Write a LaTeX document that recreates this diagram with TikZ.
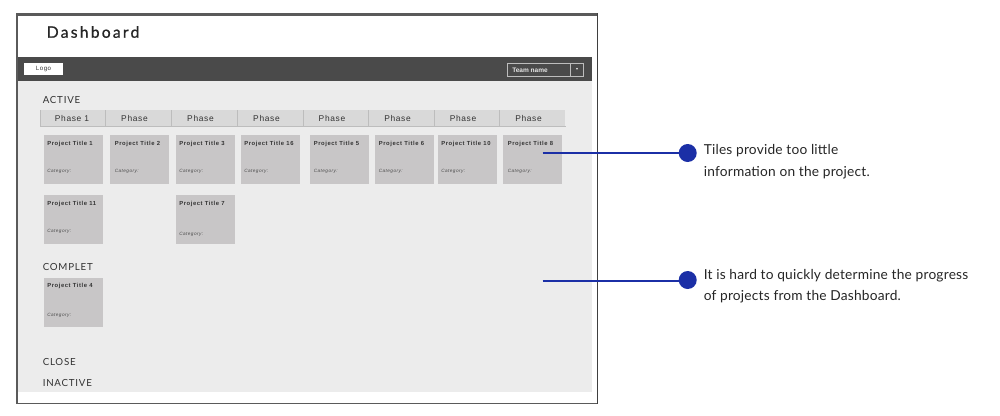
\documentclass[tikz,border=0pt]{standalone}
\usepackage{fontspec}
\setmainfont{Lato}
\newfontfamily\headf[LetterSpace=14,FakeBold=0.8]{Lato}
\newfontfamily\secf[LetterSpace=8]{Lato}
\newfontfamily\phasef[LetterSpace=8]{Liberation Sans}
\newfontfamily\tilef[LetterSpace=10]{Liberation Sans}
\newfontfamily\noteh[LetterSpace=1.5]{Lato}
\definecolor{framec}{HTML}{5A5A5A}
\definecolor{panelc}{HTML}{ECECEC}
\definecolor{darkc}{HTML}{4A4A4A}
\definecolor{tilec}{HTML}{C8C6C7}
\definecolor{phasec}{HTML}{D9D9D9}
\definecolor{phaseline}{HTML}{BDBDBD}
\definecolor{bluec}{HTML}{1B2FA6}
\definecolor{textc}{HTML}{333333}
\tikzset{
  x=0.75pt,y=-0.75pt,
  tilebox/.style={fill=tilec,draw=none,minimum width=44.25pt,minimum height=36.75pt,inner sep=0pt,outer sep=0pt},
  tiletitle/.style={anchor=west,inner sep=0pt,font=\tilef\bfseries\fontsize{4.4}{5}\selectfont,text=black!80},
  tilecat/.style={anchor=west,inner sep=0pt,font=\tilef\itshape\fontsize{3.5}{4}\selectfont,text=black!70},
  phasetext/.style={anchor=center,inner sep=0pt,font=\phasef\fontsize{6.3}{8}\selectfont,text=textc},
  section/.style={anchor=west,inner sep=0pt,font=\secf\fontsize{7.3}{9}\selectfont,text=textc},
  note/.style={anchor=west,inner sep=0pt,font=\noteh\fontsize{10.3}{12}\selectfont,text=black!85},
  dot/.style={circle,fill=bluec,draw=none,minimum size=13.5pt,inner sep=0pt},
  leader/.style={draw=bluec,line width=1.3pt},
}
\begin{document}
\begin{tikzpicture}
\useasboundingbox (0,0) rectangle (1000,415);
\fill[white] (0,0) rectangle (1000,415);
% frame
\node[fill=panelc,draw=none,minimum width=430.5pt,minimum height=233.25pt,inner sep=0pt,anchor=north west] (panel) at (18,81) {};
\node[fill=darkc,draw=none,minimum width=430.5pt,minimum height=18pt,inner sep=0pt,anchor=north west] (bar) at (18,57) {};
\fill[framec] (16,13) rectangle (598,15.5);
\fill[framec] (16,13) rectangle (18,404);
\fill[framec] (16,402.5) rectangle (598,404);
\fill[framec!70!black] (596.6,13) rectangle (598,404);
\node[anchor=west,inner sep=0pt,font=\headf\fontsize{11.8}{14}\selectfont,text=black!85] (title) at (46.5,32) {Dashboard};
% bar
\node[fill=white,minimum width=28.9pt,minimum height=9pt,inner sep=0pt,anchor=north west,font=\phasef\fontsize{4.6}{5}\selectfont,text=textc] (logo) at (24,63) {Logo};
\node[draw=phaseline,line width=.5pt,minimum width=57.6pt,minimum height=9.6pt,inner sep=0pt,anchor=north west] (team) at (506.5,63) {};
\node[anchor=west,inner sep=0pt,font=\fontspec{Liberation Sans}\bfseries\fontsize{4.9}{6}\selectfont,text=white!90!black] (teamtext) at (512,70) {Team name};
\draw[phaseline,line width=.5pt] (570.5,63) -- (570.5,75.5);
\node[inner sep=0pt,font=\fontspec{DejaVu Sans}\fontsize{3}{3}\selectfont,text=white] (arrow) at (577,69.5) {▾};
% sections
\node[section] (s1) at (42.5,100.5) {ACTIVE};
\node[section] (s2) at (42.5,266.7) {COMPLET};
\node[section] (s3) at (42.5,361.7) {CLOSE};
\node[section] (s4) at (42.5,383.2) {INACTIVE};
% phase strip
\node[fill=phasec,draw=none,minimum width=393.4pt,minimum height=11.7pt,inner sep=0pt,anchor=north west] (strip) at (40.5,110) {};
\draw[phaseline,line width=.4pt] (strip.north west) -- (strip.south west) -- (strip.south east);
\foreach \x in {105.5,171.5,237.5,303.5,368.5,434.5,499.5}{\draw[phaseline,line width=.5pt] (\x,110) -- (\x,125.5);}
\node[phasetext] (p1) at (72,118.5) {Phase 1};
\node[phasetext] (p2) at (134.5,118.5) {Phase};
\node[phasetext] (p3) at (200.5,118.5) {Phase};
\node[phasetext] (p4) at (266.5,118.5) {Phase};
\node[phasetext] (p5) at (332,118.5) {Phase};
\node[phasetext] (p6) at (397.5,118.5) {Phase};
\node[phasetext] (p7) at (463,118.5) {Phase};
\node[phasetext] (p8) at (528.5,118.5) {Phase};
% tiles: name, x, y, title, title x, category y
\foreach \n/\x/\y/\t/\tx/\cy in {
 a/44/135/{Project Title 1}/47/171.5,
 b/110/135/{Project Title 2}/114.5/171.5,
 c/176/135/{Project Title 3}/179/171.5,
 d/241/135/{Project Title 16}/244/171.5,
 e/310/135/{Project Title 5}/313.5/171.5,
 f/375/135/{Project Title 6}/378.5/171.5,
 g/437.5/135/{Project Title 10}/441/171.5,
 h/503/135/{Project Title 8}/507.5/171.5,
 i/44/195/{Project Title 11}/47/231,
 j/176/195/{Project Title 7}/179/234,
 k/44/277.5/{Project Title 4}/47/315.5}
{
 \node[tilebox,anchor=north west] (tile\n) at (\x,\y) {};
 \node[tiletitle] (title\n) at (\tx,\y+8.8) {\t};
 \node[tilecat] (cat\n) at (\tx,\cy) {Category:};
}
% callouts
\coordinate (from1) at (542.5,153.3);
\coordinate (from2) at (542.5,280.8);
\node[dot] (dot1) at (687.7,153) {};
\node[dot] (dot2) at (687.7,280) {};
\draw[leader] (from1) -- (dot1.center |- from1);
\draw[leader] (from2) -- (dot2.center |- from2);
\node[note] (n1a) at (703.5,151) {Tiles provide too little};
\node[note] (n1b) at (703.5,172.5) {information on the project.};
\node[note] (n2a) at (703.5,275.5) {It is hard to quickly determine the progress};
\node[note] (n2b) at (703.5,296.5) {of projects from the Dashboard.};
\end{tikzpicture}
\end{document}
